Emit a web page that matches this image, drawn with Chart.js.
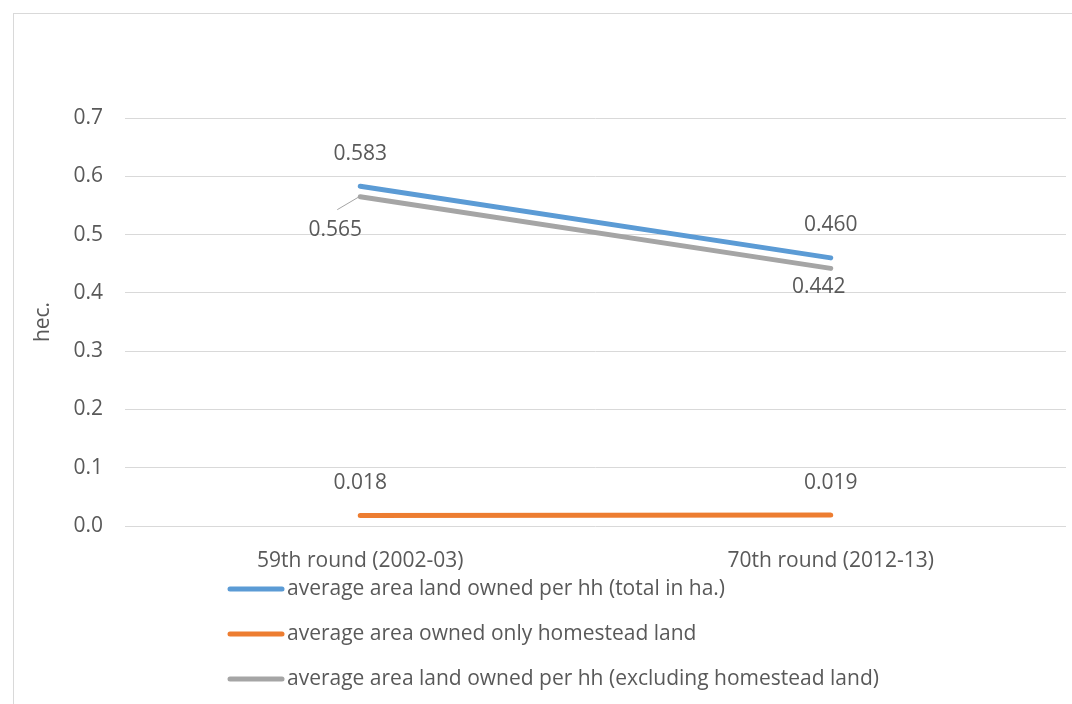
<!DOCTYPE html>
<html>
<head>
<meta charset="utf-8">
<script src="https://cdn.jsdelivr.net/npm/chart.js@4.4.1/dist/chart.umd.min.js"></script>
<style>
  html, body { margin: 0; padding: 0; background: #ffffff; }
  #wrap { position: relative; width: 1072px; height: 704px; }
</style>
</head>
<body>
<div id="wrap"><canvas id="c" width="1072" height="704"></canvas></div>
<script>
// Survey rounds on the x axis
const categories = ['59th round (2002-03)', '70th round (2012-13)'];

// Average land owned per household, hectares
const totalOwned = [0.583, 0.460];
const homesteadOnly = [0.018, 0.019];
const excludingHomestead = [0.565, 0.442];

const seriesNames = [
  'average area land owned per hh (total in ha.)',
  'average area owned only homestead land',
  'average area land owned per hh (excluding homestead land)'
];

const yTicks = [0, 0.1, 0.2, 0.3, 0.4, 0.5, 0.6, 0.7];

const FONT = '"Open Sans", "Liberation Sans", sans-serif';
const FS = 21;
const TEXT = '#595959';
const GRID = '#d9d9d9';

// Where each value label sits relative to its point: [dx, dy, leader]
const labelPlacement = [
  [[0, -32, false], [0, -33, false]],
  [[0, -32, false], [0, -32, false]],
  [[-25, 33, true], [-12, 19, false]]
];

const frame = {
  id: 'frame',
  beforeDraw(chart) {
    const ctx = chart.ctx;
    ctx.save();
    ctx.fillStyle = '#ffffff';
    ctx.fillRect(0, 0, chart.width, chart.height);
    ctx.strokeStyle = GRID;
    ctx.lineWidth = 1;
    ctx.strokeRect(13.5, 13.5, chart.width + 20, chart.height + 20);
    ctx.restore();
  }
};

const valueLabels = {
  id: 'valueLabels',
  afterDatasetsDraw(chart) {
    const ctx = chart.ctx;
    ctx.save();
    ctx.font = FS + 'px ' + FONT;
    ctx.fillStyle = TEXT;
    ctx.textAlign = 'center';
    ctx.textBaseline = 'middle';
    chart.data.datasets.forEach((ds, di) => {
      const meta = chart.getDatasetMeta(di);
      meta.data.forEach((pt, i) => {
        const [dx, dy, leader] = labelPlacement[di][i];
        const x = pt.x + dx, y = pt.y + dy;
        if (leader) {
          ctx.save();
          ctx.strokeStyle = '#a5a5a5';
          ctx.lineWidth = 1;
          ctx.beginPath();
          ctx.moveTo(pt.x - 1, pt.y);
          ctx.lineTo(pt.x - 23, pt.y + 13);
          ctx.stroke();
          ctx.restore();
        }
        ctx.fillText(ds.data[i].toFixed(3), x, y);
      });
    });
    ctx.restore();
  }
};

// Stacked legend under the plot, one series per row
const stackedLegend = {
  id: 'stackedLegend',
  afterDraw(chart) {
    const ctx = chart.ctx;
    ctx.save();
    ctx.font = FS + 'px ' + FONT;
    ctx.fillStyle = TEXT;
    ctx.textAlign = 'left';
    ctx.textBaseline = 'middle';
    const x0 = 230, x1 = 282, rows = [589, 634, 679];
    chart.data.datasets.forEach((ds, i) => {
      const y = rows[i];
      ctx.strokeStyle = ds.borderColor;
      ctx.lineWidth = 5;
      ctx.lineCap = 'round';
      ctx.beginPath();
      ctx.moveTo(x0, y);
      ctx.lineTo(x1, y);
      ctx.stroke();
      ctx.fillText(ds.label, 287, y);
    });
    ctx.restore();
  }
};

const lineStyle = (color) => ({
  borderColor: color,
  backgroundColor: color,
  borderWidth: 5,
  borderCapStyle: 'round',
  borderJoinStyle: 'round',
  pointRadius: 0,
  pointHoverRadius: 0,
  tension: 0,
  fill: false
});

new Chart(document.getElementById('c'), {
  type: 'line',
  data: {
    labels: categories,
    datasets: [
      Object.assign({ label: seriesNames[0], data: totalOwned, order: 2 }, lineStyle('#5b9bd5')),
      Object.assign({ label: seriesNames[1], data: homesteadOnly, order: 1 }, lineStyle('#ed7d31')),
      Object.assign({ label: seriesNames[2], data: excludingHomestead, order: 0 }, lineStyle('#a5a5a5'))
    ]
  },
  plugins: [frame, valueLabels, stackedLegend],
  options: {
    responsive: false,
    animation: false,
    devicePixelRatio: 1,
    layout: { padding: { left: 0, right: 6, top: 118, bottom: 0 } },
    plugins: {
      legend: { display: false },
      tooltip: { enabled: false }
    },
    scales: {
      x: {
        offset: true,
        grid: { display: false },
        border: { display: false },
        ticks: { color: TEXT, font: { family: FONT, size: FS }, padding: 14, maxRotation: 0 },
        afterFit(scale) { scale.height = 178; }
      },
      y: {
        min: 0,
        max: 0.7,
        afterBuildTicks(scale) { scale.ticks = yTicks.map(v => ({ value: v })); },
        grid: { color: GRID, lineWidth: 1, drawTicks: false },
        border: { display: false },
        ticks: {
          color: TEXT,
          font: { family: FONT, size: FS },
          padding: 22,
          callback: (v) => Number(v).toFixed(1)
        },
        title: {
          display: true,
          text: 'hec.',
          color: TEXT,
          font: { family: FONT, size: FS },
          padding: { top: 30, bottom: 0 }
        },
        afterFit(scale) { scale.width = 125; }
      }
    }
  }
});
</script>
</body>
</html>
